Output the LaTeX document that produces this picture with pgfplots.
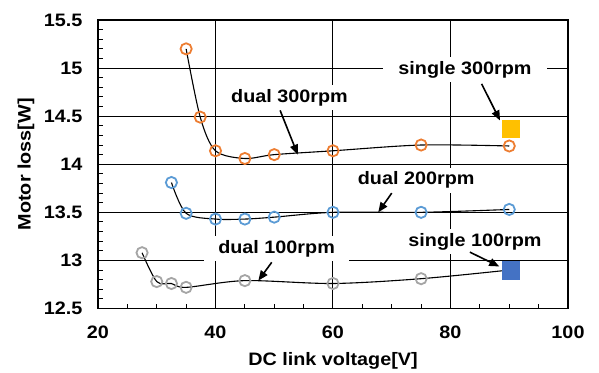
\documentclass[border=0pt]{standalone}
\usepackage{fontspec}
\setmainfont{Liberation Sans}[FakeStretch=1.1]
\usepackage{pgfplots}
\pgfplotsset{compat=1.18}
\usetikzlibrary{arrows.meta}
\definecolor{cOr}{HTML}{ED7D31}
\definecolor{cBl}{HTML}{5B9BD5}
\definecolor{cGr}{HTML}{A5A5A5}
\definecolor{cGo}{HTML}{FFC000}
\definecolor{cDb}{HTML}{4472C4}
\newcommand{\ff}{\fontsize{18}{18}\selectfont\bfseries}
\begin{document}
\begin{tikzpicture}
\useasboundingbox (-98pt,-64pt) rectangle (501pt,308.5pt);
\begin{axis}[
 at={(0pt,0pt)}, anchor=south west,
 scale only axis, width=470pt, height=288.5pt,
 xmin=20, xmax=100, ymin=12.5, ymax=15.5,
 xtick={20,40,60,80,100}, ytick={12.5,13,13.5,14,14.5,15,15.5},
 minor x tick num=3, minor y tick num=4,
 tick pos=left, tick align=inside,
 major tick length=5pt, minor tick length=5pt,
 xmajorgrids, ymajorgrids,
 major grid style={black, line width=1pt},
 axis line style={black, line width=1.4pt},
 tick style={black, line width=1pt},
 ticklabel style={font=\ff},
 /pgf/number format/assume math mode=true,
 xticklabel style={yshift=-14pt},
 yticklabel style={xshift=-12pt},
 xlabel={DC link voltage[V]}, ylabel={Motor loss[W]},
 label style={font=\ff},
 xlabel style={at={(axis description cs:0.5,-0.1386)}, anchor=north},
 ylabel style={at={(axis description cs:-0.1277,0.5)}, anchor=south, rotate=0},
]
% dual 300rpm
\addplot[black, line width=1.1pt, smooth, tension=0.5] coordinates {
(35,15.2) (37.4,14.49) (40,14.14) (45,14.06) (50,14.10) (60,14.14) (75,14.2) (90,14.19)};
\addplot[cOr, only marks, mark=o, mark size=5.6pt, line width=1.8pt] coordinates {
(35,15.2) (37.4,14.49) (40,14.14) (45,14.06) (50,14.10) (60,14.14) (75,14.2) (90,14.19)};
% dual 200rpm
\addplot[black, line width=1.1pt, smooth, tension=0.5] coordinates {
(32.5,13.81) (35,13.49) (40,13.43) (45,13.43) (50,13.45) (60,13.50) (75,13.50) (90,13.53)};
\addplot[cBl, only marks, mark=o, mark size=5.6pt, line width=1.8pt] coordinates {
(32.5,13.81) (35,13.49) (40,13.43) (45,13.43) (50,13.45) (60,13.50) (75,13.50) (90,13.53)};
% dual 100rpm
\addplot[black, line width=1.1pt, smooth, tension=0.5] coordinates {
(27.5,13.08) (30,12.78) (32.5,12.76) (35,12.72) (45,12.79) (60,12.76) (75,12.81) (90,12.90)};
\addplot[cGr, only marks, mark=o, mark size=5.6pt, line width=1.8pt] coordinates {
(27.5,13.08) (30,12.78) (32.5,12.76) (35,12.72) (45,12.79) (60,12.76) (75,12.81)};
% single
\addplot[cGo, only marks, mark=square*, mark size=8.7pt] coordinates {(90.2,14.37)};
\addplot[cDb, only marks, mark=square*, mark size=8.7pt] coordinates {(90.2,12.90)};
% labels
\node[fill=white, inner xsep=13pt, inner ysep=4pt, anchor=base, font=\ff] at (axis cs:52.6,14.645) {dual 300rpm};
\node[fill=white, inner xsep=15pt, inner ysep=4pt, anchor=base, font=\ff] at (axis cs:82.47,14.933) {single 300rpm};
\node[fill=white, inner xsep=14pt, inner ysep=4pt, anchor=base, font=\ff] at (axis cs:74.16,13.786) {dual 200rpm};
\node[fill=white, inner xsep=14pt, inner ysep=4pt, anchor=base, font=\ff] at (axis cs:50.4,13.075) {dual 100rpm};
\node[fill=white, inner xsep=14pt, inner ysep=4pt, anchor=base, font=\ff] at (axis cs:84.17,13.145) {single 100rpm};
% arrows
\draw[line width=1.6pt, -{Triangle[length=10pt,width=8pt]}] (axis cs:51,14.56) -- (axis cs:54,14.1);
\draw[line width=1.6pt, -{Triangle[length=10pt,width=8pt]}] (axis cs:85.3,14.836) -- (axis cs:88.43,14.455);
\draw[line width=1.6pt, -{Triangle[length=10pt,width=8pt]}] (axis cs:70.0,13.70) -- (axis cs:67.7,13.50);
\draw[line width=1.6pt, -{Triangle[length=10pt,width=8pt]}] (axis cs:49.57,12.98) -- (axis cs:47.29,12.79);
\draw[line width=1.6pt, -{Triangle[length=10pt,width=8pt]}] (axis cs:83.3,13.086) -- (axis cs:88.3,12.937);
\end{axis}
\end{tikzpicture}
\end{document}
